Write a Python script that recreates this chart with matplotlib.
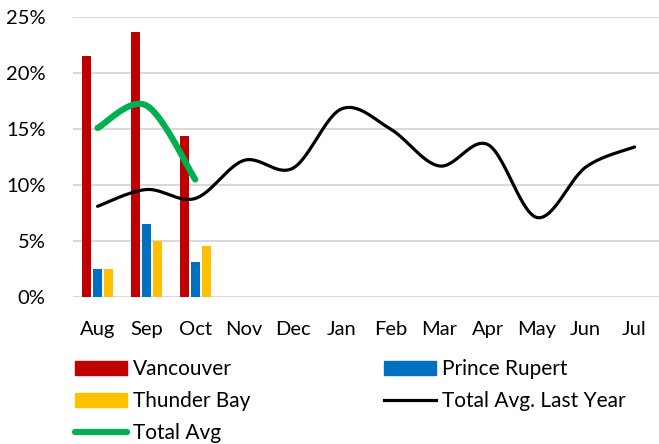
import numpy as np
import matplotlib
matplotlib.use("Agg")
import matplotlib.pyplot as plt
from matplotlib.patches import Patch
from matplotlib.lines import Line2D
from matplotlib.ticker import FuncFormatter

plt.rcParams['font.family'] = ['Lato', 'DejaVu Sans']

months = ["Aug", "Sep", "Oct", "Nov", "Dec", "Jan", "Feb", "Mar", "Apr", "May", "Jun", "Jul"]
vancouver = [21.5, 23.7, 14.4]
prince_rupert = [2.5, 6.5, 3.1]
thunder_bay = [2.5, 5.0, 4.6]
total_avg = [15.1, 17.1, 10.5]
total_avg_last_year = [8.1, 9.6, 8.8, 12.2, 11.5, 16.8, 15.0, 11.7, 13.6, 7.1, 11.6, 13.4]


def smooth(xs, ys, n=30):
    pts = np.column_stack([xs, ys]).astype(float)
    out = []
    m = len(pts)
    for i in range(m - 1):
        p0 = pts[i - 1] if i > 0 else pts[i]
        p1 = pts[i]
        p2 = pts[i + 1]
        p3 = pts[i + 2] if i + 2 < m else pts[i + 1]
        c1 = p1 + (p2 - p0) / 6.0
        c2 = p2 - (p3 - p1) / 6.0
        t = np.linspace(0, 1, n)[:, None]
        seg = ((1 - t) ** 3) * p1 + 3 * ((1 - t) ** 2) * t * c1 + 3 * (1 - t) * t ** 2 * c2 + t ** 3 * p2
        if i > 0:
            seg = seg[1:]
        out.append(seg)
    out = np.vstack(out)
    return out[:, 0], out[:, 1]


fig = plt.figure(figsize=(6.59, 4.44), dpi=100)
ax = fig.add_axes([0.111, 0.331, 0.889, 0.6307])

x = np.arange(len(months))
w = 0.185
step = 0.225
xb = np.arange(len(vancouver))
ax.bar(xb - step, vancouver, w, color="#C00000", zorder=3)
ax.bar(xb, prince_rupert, w, color="#0070C0", zorder=3)
ax.bar(xb + step, thunder_bay, w, color="#FFC000", zorder=3)

sx, sy = smooth(x, total_avg_last_year)
ax.plot(sx, sy, color="black", lw=2.3, zorder=4, solid_capstyle="round")
gx, gy = smooth(np.arange(len(total_avg)), total_avg)
ax.plot(gx, gy, color="#00B050", lw=4.5, zorder=5, solid_capstyle="round")

ax.set_xlim(-0.5, len(months) - 0.5)
ax.set_ylim(0, 25)
ax.set_yticks([0, 5, 10, 15, 20, 25])
ax.yaxis.set_major_formatter(FuncFormatter(lambda v, p: f"{int(v)}%"))
ax.set_xticks(x)
ax.set_xticklabels(months)
ax.grid(axis="y", color="#D9D9D9", lw=1.5, zorder=0)
for s in ax.spines.values():
    s.set_visible(False)
ax.tick_params(axis="both", length=0, labelsize=14.5, colors="black")
ax.tick_params(axis="x", pad=17)
ax.tick_params(axis="y", pad=20)

handles = [
    Patch(color="#C00000", label="Vancouver"),
    Patch(color="#FFC000", label="Thunder Bay"),
    Line2D([], [], color="#00B050", lw=4.5, solid_capstyle="round", label="Total Avg"),
    Patch(color="#0070C0", label="Prince Rupert"),
    Line2D([], [], color="black", lw=2.3, label="Total Avg. Last Year"),
]
fig.legend(handles=handles, ncol=2, loc="upper left", bbox_to_anchor=(0.101, 0.2095),
           frameon=False, fontsize=15, handlelength=2.5, handleheight=0.7,
           handletextpad=0.29, columnspacing=6.4, labelspacing=0.58, borderaxespad=0)

fig.savefig("out.png", dpi=100)
